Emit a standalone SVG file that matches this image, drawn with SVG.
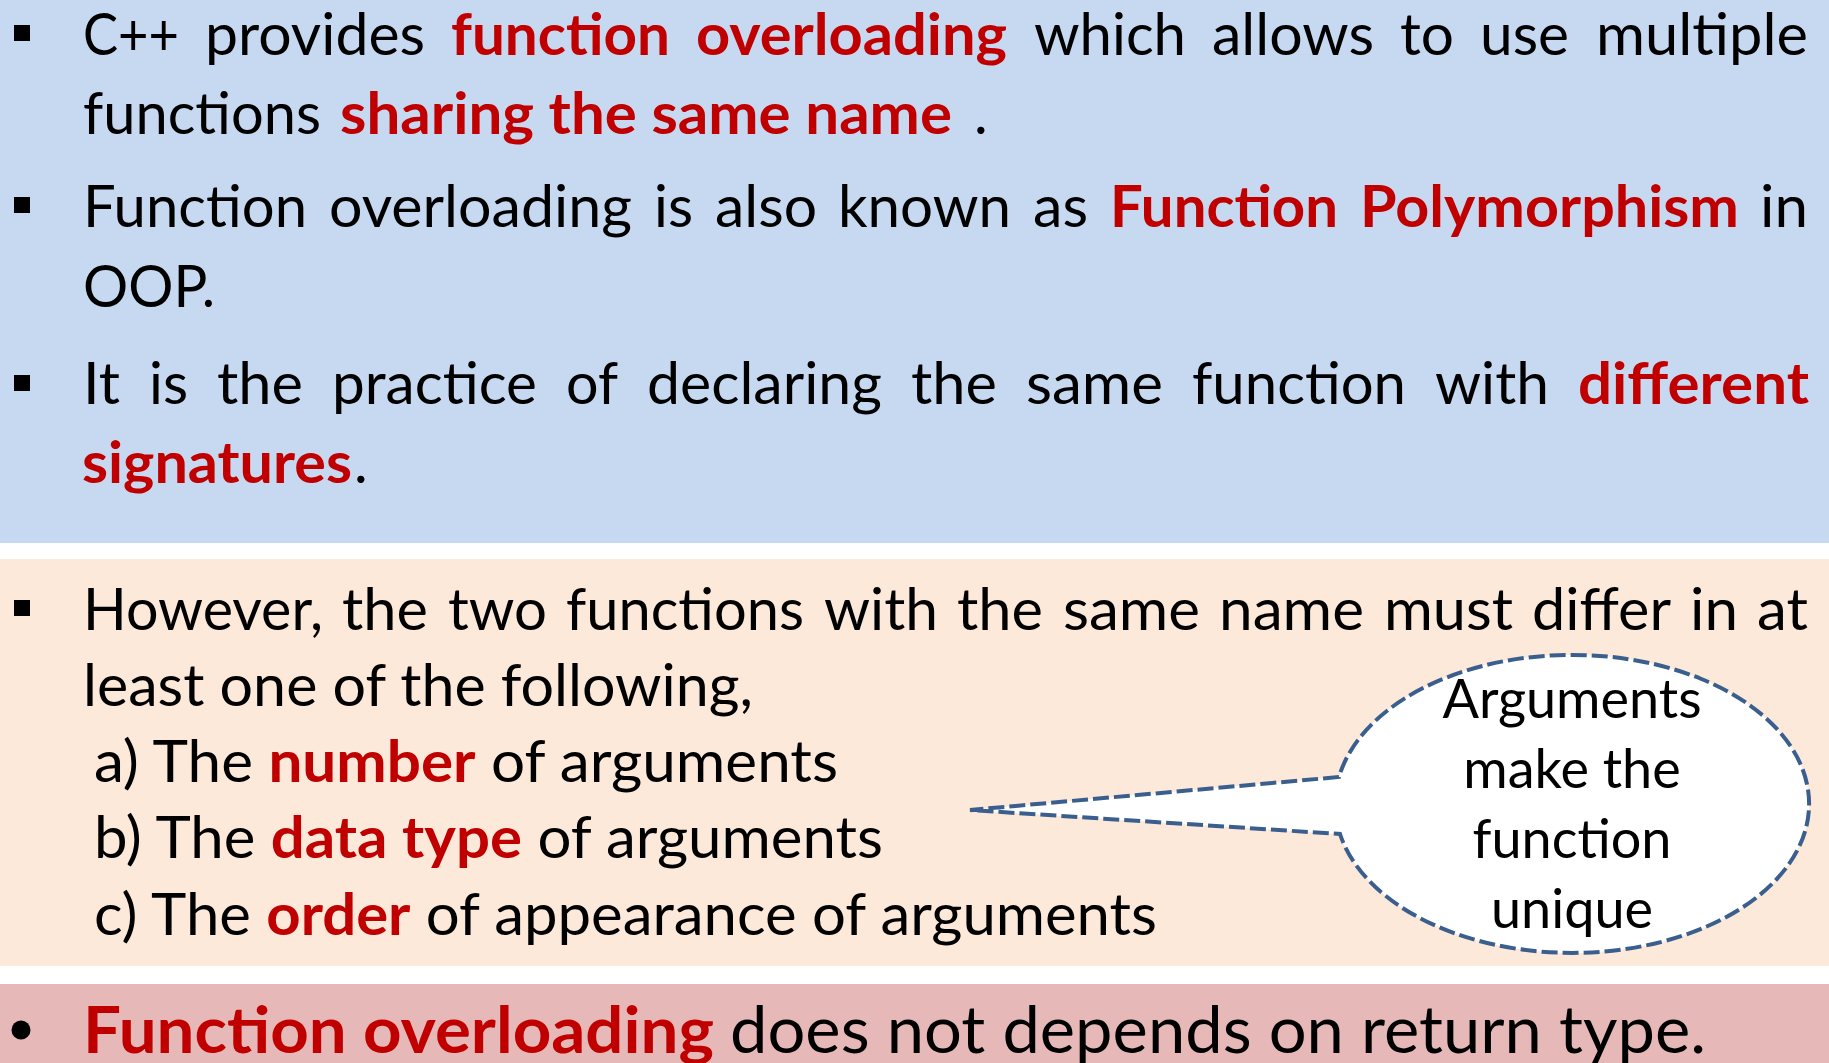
<svg xmlns="http://www.w3.org/2000/svg" width="1829" height="1063" viewBox="0 0 1829 1063">
<style>
.t{font-family:Lato,"Open Sans","Liberation Sans",sans-serif;font-size:58px;fill:#000}
.r{fill:#C00000;font-weight:bold}
.c{font-family:Lato,"Open Sans","Liberation Sans",sans-serif;font-size:54px;fill:#000;text-anchor:middle}
.p{font-family:Lato,"Open Sans","Liberation Sans",sans-serif;font-size:65px;fill:#000}
.sq{fill:#000}
</style>
<rect x="0" y="0" width="1829" height="1063" fill="#FFFFFF"/>
<g id="panel-blue">
<rect x="0" y="0" width="1829" height="543" fill="#C6D9F1"/>
<rect class="sq" x="14" y="25" width="16" height="16"/>
<rect class="sq" x="14" y="197" width="16" height="16"/>
<rect class="sq" x="14" y="375" width="16" height="16"/>
<text class="t" y="55"><tspan x="83" textLength="96" lengthAdjust="spacingAndGlyphs">C++</tspan><tspan x="205" textLength="220" lengthAdjust="spacingAndGlyphs">provides</tspan><tspan x="451" class="r" textLength="219" lengthAdjust="spacingAndGlyphs">function</tspan><tspan x="696" class="r" textLength="311" lengthAdjust="spacingAndGlyphs">overloading</tspan><tspan x="1034" textLength="152" lengthAdjust="spacingAndGlyphs">which</tspan><tspan x="1212" textLength="162" lengthAdjust="spacingAndGlyphs">allows</tspan><tspan x="1400" textLength="54" lengthAdjust="spacingAndGlyphs">to</tspan><tspan x="1480" textLength="89" lengthAdjust="spacingAndGlyphs">use</tspan><tspan x="1596" textLength="212" lengthAdjust="spacingAndGlyphs">multiple</tspan></text>
<text class="t" y="134"><tspan x="83" textLength="238" lengthAdjust="spacingAndGlyphs">functions</tspan><tspan x="340" class="r" textLength="612" lengthAdjust="spacingAndGlyphs">sharing the same name</tspan><tspan x="974">.</tspan></text>
<text class="t" y="227"><tspan x="83" textLength="224" lengthAdjust="spacingAndGlyphs">Function</tspan><tspan x="329" textLength="303" lengthAdjust="spacingAndGlyphs">overloading</tspan><tspan x="654" textLength="39" lengthAdjust="spacingAndGlyphs">is</tspan><tspan x="715" textLength="102" lengthAdjust="spacingAndGlyphs">also</tspan><tspan x="838" textLength="173" lengthAdjust="spacingAndGlyphs">known</tspan><tspan x="1033" textLength="55" lengthAdjust="spacingAndGlyphs">as</tspan><tspan x="1110" class="r" textLength="228" lengthAdjust="spacingAndGlyphs">Function</tspan><tspan x="1360" class="r" textLength="379" lengthAdjust="spacingAndGlyphs">Polymorphism</tspan><tspan x="1760" textLength="48" lengthAdjust="spacingAndGlyphs">in</tspan></text>
<text class="t" y="307" x="83" textLength="132" lengthAdjust="spacingAndGlyphs">OOP.</text>
<text class="t" y="404"><tspan x="83" textLength="37" lengthAdjust="spacingAndGlyphs">It</tspan><tspan x="149" textLength="39" lengthAdjust="spacingAndGlyphs">is</tspan><tspan x="217" textLength="86" lengthAdjust="spacingAndGlyphs">the</tspan><tspan x="332" textLength="205" lengthAdjust="spacingAndGlyphs">practice</tspan><tspan x="566" textLength="52" lengthAdjust="spacingAndGlyphs">of</tspan><tspan x="647" textLength="235" lengthAdjust="spacingAndGlyphs">declaring</tspan><tspan x="911" textLength="86" lengthAdjust="spacingAndGlyphs">the</tspan><tspan x="1026" textLength="137" lengthAdjust="spacingAndGlyphs">same</tspan><tspan x="1192" textLength="214" lengthAdjust="spacingAndGlyphs">function</tspan><tspan x="1435" textLength="114" lengthAdjust="spacingAndGlyphs">with</tspan><tspan x="1578" class="r" textLength="231" lengthAdjust="spacingAndGlyphs">different</tspan></text>
<text class="t" y="483"><tspan x="82" class="r" textLength="270" lengthAdjust="spacingAndGlyphs">signatures</tspan><tspan x="354">.</tspan></text>
</g>
<g id="panel-peach">
<rect x="0" y="559" width="1829" height="407" fill="#FDE9D9"/>
<rect class="sq" x="14" y="600" width="16" height="16"/>
<text class="t" y="630"><tspan x="83" textLength="240" lengthAdjust="spacingAndGlyphs">However,</tspan><tspan x="342" textLength="86" lengthAdjust="spacingAndGlyphs">the</tspan><tspan x="448" textLength="99" lengthAdjust="spacingAndGlyphs">two</tspan><tspan x="566" textLength="238" lengthAdjust="spacingAndGlyphs">functions</tspan><tspan x="824" textLength="114" lengthAdjust="spacingAndGlyphs">with</tspan><tspan x="957" textLength="86" lengthAdjust="spacingAndGlyphs">the</tspan><tspan x="1063" textLength="137" lengthAdjust="spacingAndGlyphs">same</tspan><tspan x="1219" textLength="145" lengthAdjust="spacingAndGlyphs">name</tspan><tspan x="1384" textLength="129" lengthAdjust="spacingAndGlyphs">must</tspan><tspan x="1532" textLength="139" lengthAdjust="spacingAndGlyphs">differ</tspan><tspan x="1690" textLength="48" lengthAdjust="spacingAndGlyphs">in</tspan><tspan x="1757" textLength="51" lengthAdjust="spacingAndGlyphs">at</tspan></text>
<text class="t" y="706" x="83" textLength="670" lengthAdjust="spacingAndGlyphs">least one of the following,</text>
<text class="t" y="782" x="94" textLength="744" lengthAdjust="spacingAndGlyphs">a) The <tspan class="r">number</tspan> of arguments</text>
<text class="t" y="858" x="94" textLength="789" lengthAdjust="spacingAndGlyphs">b) The <tspan class="r">data type</tspan> of arguments</text>
<text class="t" y="935" x="94" textLength="1063" lengthAdjust="spacingAndGlyphs">c) The <tspan class="r">order</tspan> of appearance of arguments</text>
</g>
<g id="callout">
<path d="M1339,777 L970,810 L1340,834 A237,149 0 1 0 1339,777 Z" fill="#FFFFFF" stroke="#3A5F8E" stroke-width="4" stroke-dasharray="16 5" stroke-linejoin="miter"/>
<text class="c" x="1572" y="718">Arguments</text>
<text class="c" x="1572" y="788">make the</text>
<text class="c" x="1572" y="858">function</text>
<text class="c" x="1572" y="928">unique</text>
</g>
<g id="panel-pink">
<rect x="0" y="984" width="1829" height="79" fill="#E6B8B7"/>
<circle cx="21" cy="1030" r="9.5" fill="#000"/>
<text class="p" y="1053"><tspan x="83" class="r" textLength="631" lengthAdjust="spacingAndGlyphs">Function overloading</tspan><tspan x="730" textLength="976" lengthAdjust="spacingAndGlyphs">does not depends on return type.</tspan></text>
</g>
</svg>
